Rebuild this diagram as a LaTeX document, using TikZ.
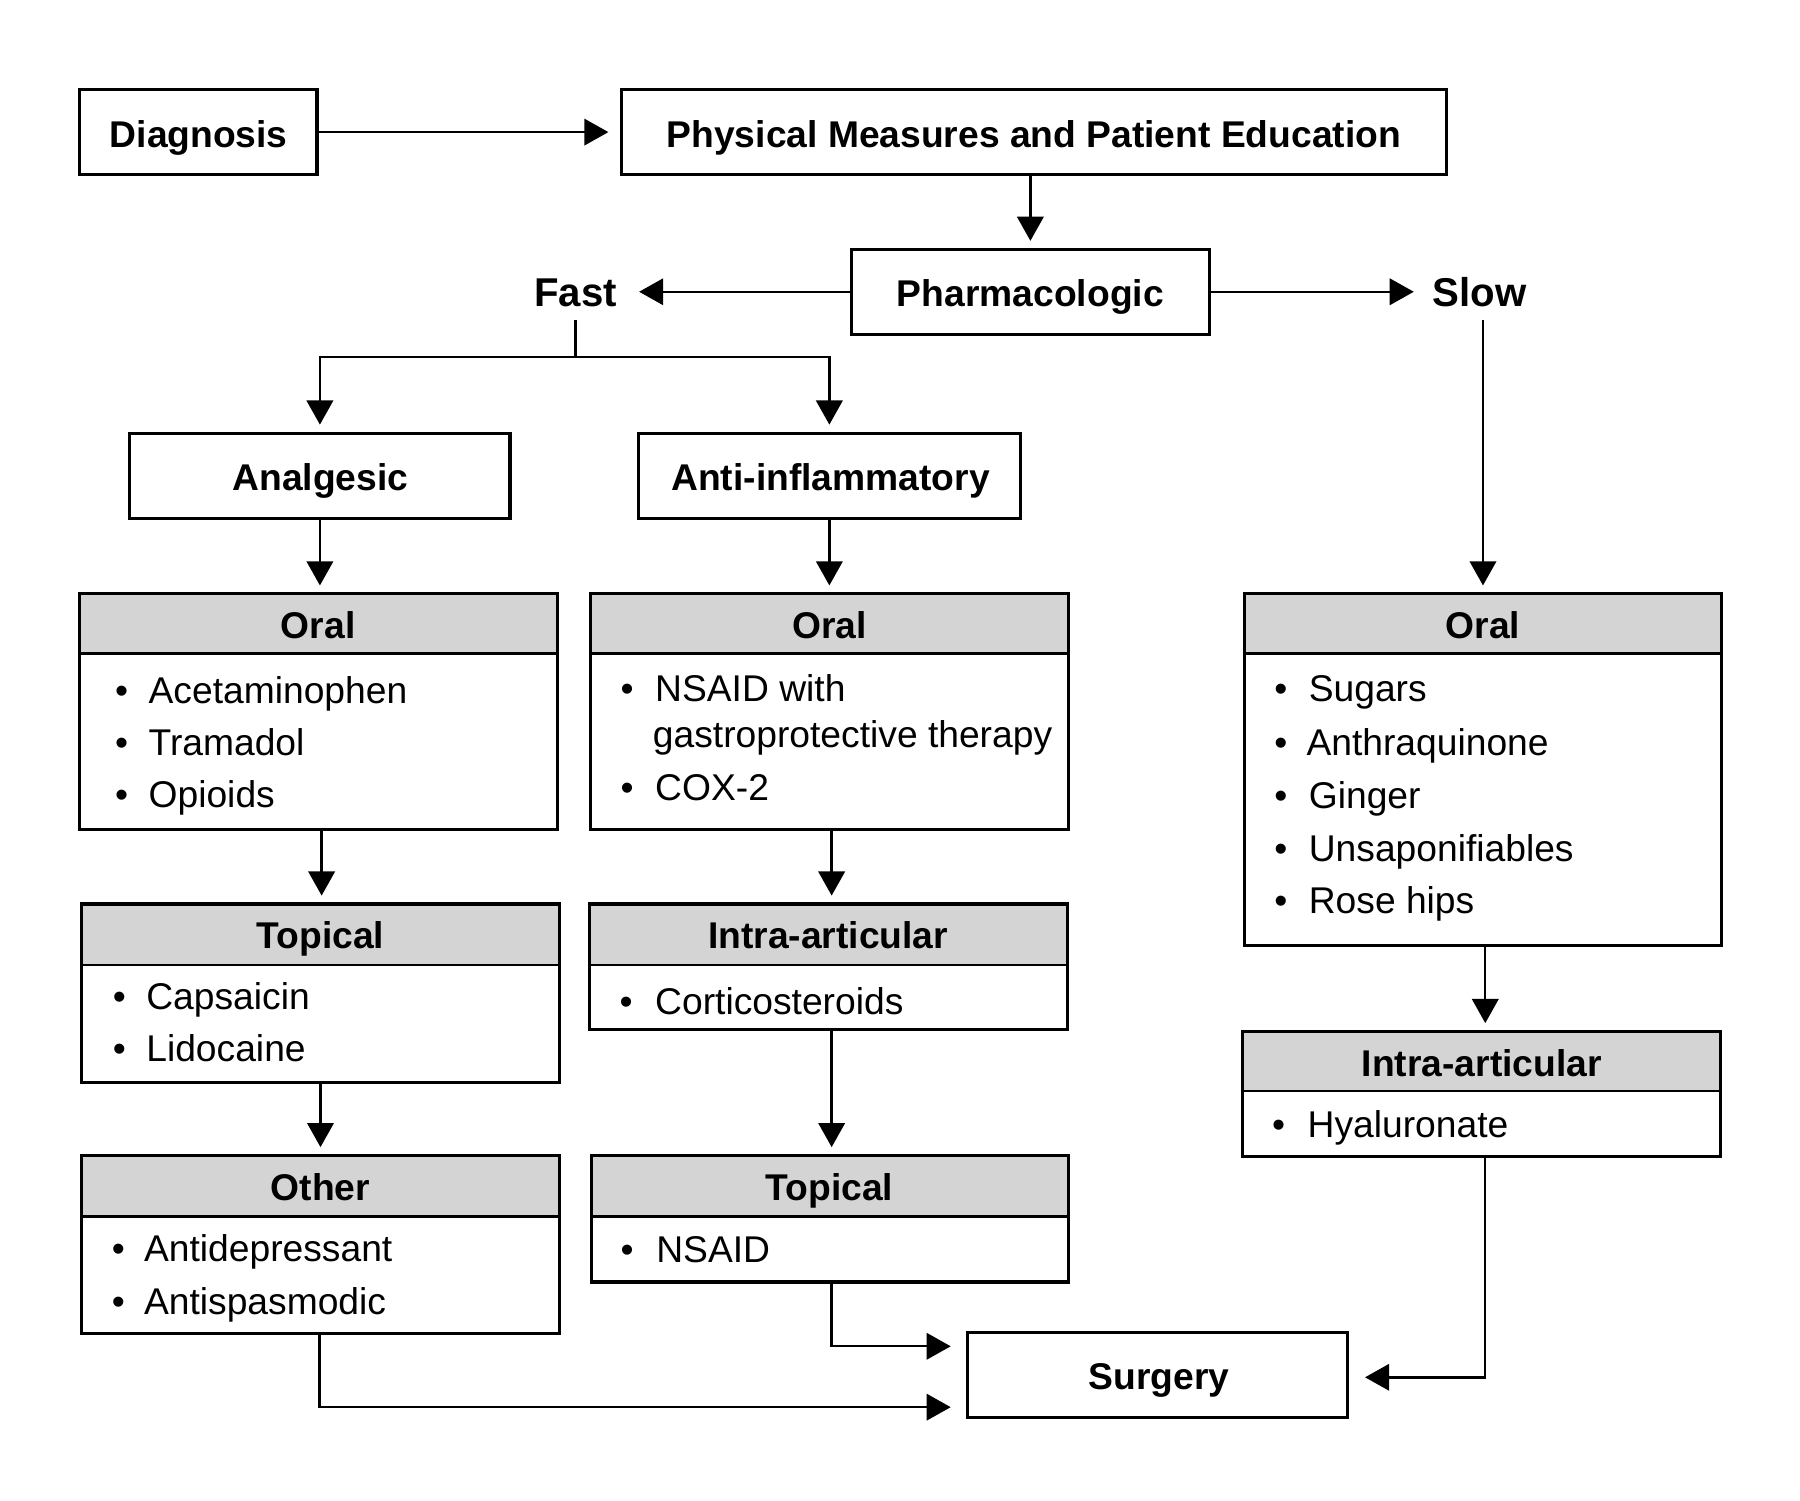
\documentclass[tikz,border=0pt]{standalone}
\usepackage{fontspec}
\setmainfont{Liberation Sans}
\usetikzlibrary{arrows.meta,fit}
\newcommand\listbox[6]{%
  \fill[hdr] (#2,#3) rectangle (#4,#6);
  \draw[sepl] (#2,#6) -- (#4,#6);
  \node[boxb, fit={(#2,#3)(#4,#5)}] (#1) {};
}
\newcommand\bitem[5]{%
  \node[bul] (#1-b) at (#2,#4) {•};
  \node[itm] (#1) at (#3,#4) {#5};
}
\begin{document}
\begin{tikzpicture}[x=0.5pt,y=-0.5pt,
  boxb/.style={draw, line width=1.35pt, inner sep=0pt},
  hdr/.style={fill=black!17},
  sepl/.style={line width=1.05pt},
  bt/.style={font=\fontsize{16.2pt}{19pt}\selectfont\bfseries, inner sep=0pt, anchor=base},
  itm/.style={font=\fontsize{16.2pt}{19pt}\selectfont, inner sep=0pt, anchor=base west},
  bul/.style={font=\fontsize{16.2pt}{19pt}\selectfont, inner sep=0pt, anchor=base},
  lbl/.style={font=\fontsize{17.5pt}{20pt}\selectfont\bfseries, inner sep=0pt, anchor=base},
  ln/.style={line width=1.05pt},
  arr/.style={line width=1.05pt, -{Triangle[length=10.5pt,width=11.5pt]}, shorten >=3pt}
]
\useasboundingbox (0,0) rectangle (1567,1306);

% top row
\node[boxb, fit={(69,78)(276,152)}] (diag) {};
\node[bt] (diagt) at (173,128) {Diagnosis};
\node[boxb, fit={(541,78)(1259,152)}] (phys) {};
\node[bt] (physt) at (900,128) {Physical Measures and Patient Education};
\node[boxb, fit={(741,217)(1053,291)}] (pharm) {};
\node[bt] (pharmt) at (897,267) {Pharmacologic};
\node[lbl] (fast) at (501,267) {Fast};
\node[lbl] (slow) at (1288,267) {Slow};
\node[boxb, fit={(113,377)(444,451)}] (anal) {};
\node[bt] (analt) at (279,427) {Analgesic};
\node[boxb, fit={(556,377)(888,451)}] (anti) {};
\node[bt] (antit) at (723,427) {Anti-inflammatory};

% list boxes
\listbox{oralA}{69}{517}{485}{722}{569}
\node[bt] (oralAh) at (277,556) {Oral};
\bitem{a1}{106}{129}{612}{Acetaminophen}
\bitem{a2}{106}{129}{658}{Tramadol}
\bitem{a3}{106}{129}{703}{Opioids}

\listbox{oralB}{514}{517}{930}{722}{569}
\node[bt] (oralBh) at (722,556) {Oral};
\bitem{b1}{546}{570}{611}{NSAID with}
\node[itm] (b1c) at (568,651) {gastroprotective therapy};
\bitem{b2}{546}{570}{697}{COX-2}

\listbox{oralC}{1083}{517}{1499}{823}{569}
\node[bt] (oralCh) at (1291,556) {Oral};
\bitem{c1}{1115}{1139}{611}{Sugars}
\bitem{c2}{1115}{1137}{658}{Anthraquinone}
\bitem{c3}{1115}{1139}{704}{Ginger}
\bitem{c4}{1115}{1139}{750}{Unsaponifiables}
\bitem{c5}{1115}{1139}{795}{Rose hips}

\listbox{topA}{71}{787}{487}{942}{840}
\node[bt] (topAh) at (279,826) {Topical};
\bitem{d1}{104}{127}{879}{Capsaicin}
\bitem{d2}{104}{127}{924}{Lidocaine}

\listbox{intraB}{513}{787}{929}{896}{840}
\node[bt] (intraBh) at (721,826) {Intra-articular};
\bitem{e1}{545}{570}{883}{Corticosteroids}

\listbox{intraC}{1082}{898}{1498}{1007}{950}
\node[bt] (intraCh) at (1290,937) {Intra-articular};
\bitem{f1}{1113}{1138}{990}{Hyaluronate}

\listbox{other}{71}{1006}{487}{1161}{1059}
\node[bt] (otherh) at (279,1045) {Other};
\bitem{g1}{103}{125}{1098}{Antidepressant}
\bitem{g2}{103}{125}{1144}{Antispasmodic}

\listbox{topB}{515}{1006}{930}{1116}{1059}
\node[bt] (topBh) at (722,1045) {Topical};
\bitem{h1}{546}{571}{1099}{NSAID}

\node[boxb, fit={(842,1160)(1173,1234)}] (surg) {};
\node[bt] (surgt) at (1009,1210) {Surgery};

% connectors
\draw[arr, shorten >=5pt] (diag.east) -- (diag.east -| phys.west);
\draw[arr] (phys.south -| pharm.north) -- (pharm.north);
\draw[arr, shorten >=9.5pt] (pharm.west) -- (pharm.west -| fast.east);
\draw[arr, shorten >=8pt] (pharm.east) -- (pharm.east -| slow.west);
\coordinate (fj) at (501,311);
\draw[ln, shorten <=5.5pt] (fast.south) -- (fj);
\draw[arr] (fj) -| (anal.north);
\draw[arr] (fj) -| (anti.north);
\draw[arr] (anal.south) -- (anal.south |- oralA.north);
\draw[arr] (anti.south) -- (anti.south |- oralB.north);
\draw[arr, shorten <=5.5pt] (oralC.north |- slow.south) -- (oralC.north);
\draw[arr] ([xshift=1.5pt]oralA.south) -- ([xshift=1.5pt]oralA.south |- topA.north);
\draw[arr] ([xshift=1pt]oralB.south) -- ([xshift=1pt]oralB.south |- intraB.north);
\draw[arr] ([xshift=1pt]oralC.south) -- ([xshift=1pt]oralC.south |- intraC.north);
\draw[arr] (topA.south) -- (topA.south |- other.north);
\draw[arr] ([xshift=1.5pt]intraB.south) -- ([xshift=1.5pt]intraB.south |- topB.north);
\draw[arr, shorten >=6.5pt] ([xshift=0.75pt]topB.south) |- ([yshift=12.5pt]surg.west);
\draw[arr, shorten >=6.5pt] ([xshift=-0.5pt]other.south) |- ([yshift=-14pt]surg.west);
\draw[arr, shorten >=7pt] ([xshift=1.5pt]intraC.south) |- ([yshift=-1pt]surg.east);
\end{tikzpicture}
\end{document}
